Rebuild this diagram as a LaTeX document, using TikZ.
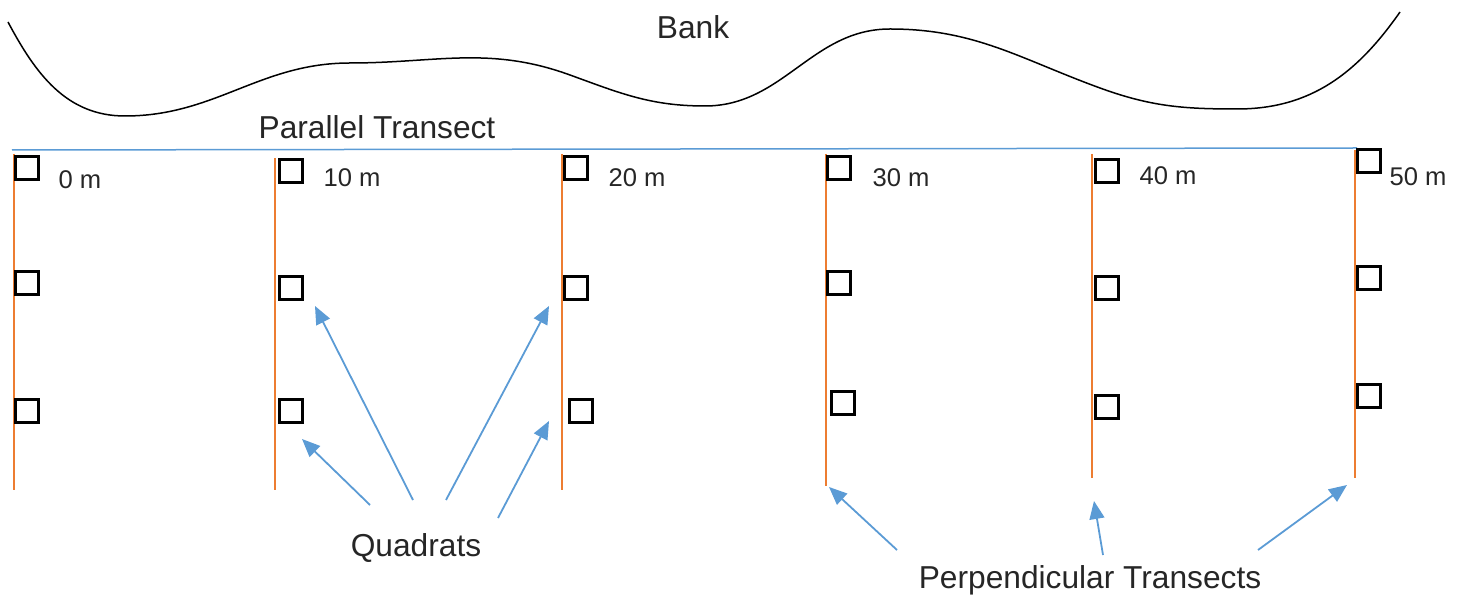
\documentclass[tikz,border=0pt]{standalone}
\usepackage{fontspec}
\setmainfont{Liberation Sans}
\usetikzlibrary{arrows.meta}
\definecolor{tblue}{HTML}{5B9BD5}
\definecolor{torange}{HTML}{ED7D31}
\definecolor{ttext}{HTML}{262626}
\begin{document}
\begin{tikzpicture}[x=0.5pt,y=-0.5pt,
  quad/.style={draw=black,line width=1.4pt,minimum size=11.5pt,inner sep=0pt,anchor=north west},
  perp/.style={draw=torange,line width=0.75pt},
  par/.style={draw=tblue,line width=0.75pt},
  pointer/.style={draw=tblue,line width=0.9pt,-{Triangle[length=9pt,width=7.5pt]}},
  bigtxt/.style={text=ttext,font=\fontsize{15.85}{19}\selectfont,inner sep=0pt},
  dist/.style={text=ttext,font=\fontsize{12.8}{15}\selectfont,inner sep=0pt}]
\useasboundingbox (0,0) rectangle (1467,603);
% bank (y axis points down, so angles are mirrored)
\draw[line width=0.75pt] (8,22) to[out=-62,in=180] (125,116)
  to[out=0,in=180] (350,63)
  to[out=0,in=160] (570,75)
  to[out=-20,in=180] (705,106)
  to[out=0,in=180] (890,29)
  to[out=0,in=160] (1100,88)
  to[out=-20,in=180] (1237,109)
  to[out=0,in=235] (1400,12);
\node[bigtxt] (bank) at (693,27) {Bank};
% parallel transect
\coordinate (pl) at (12,150);
\coordinate (pr) at (1357,148);
\draw[par] (pl) -- (pr);
\node[bigtxt] (ptlabel) at (377,127) {Parallel Transect};
% perpendicular transects
\foreach \n/\x/\yt/\yb in {a/14/154/490,b/275/158/490,c/562/154/490,d/826/154/486,e/1092/154/478,f/1355/150/478}{
  \coordinate (\n top) at (\x,\yt);
  \coordinate (\n bot) at (\x,\yb);
  \draw[perp] (\n top) -- (\n bot);
}
% quadrats
\node[quad] (qa1) at (14,155) {};
\node[quad] (qa2) at (14,270) {};
\node[quad] (qa3) at (14,398) {};
\node[quad] (qb1) at (278,158) {};
\node[quad] (qb2) at (278,275) {};
\node[quad] (qb3) at (278,398) {};
\node[quad] (qc1) at (563,155) {};
\node[quad] (qc2) at (563,275) {};
\node[quad] (qc3) at (568,398) {};
\node[quad] (qd1) at (826,155) {};
\node[quad] (qd2) at (826,270) {};
\node[quad] (qd3) at (830,390) {};
\node[quad] (qe1) at (1094,158) {};
\node[quad] (qe2) at (1094,275) {};
\node[quad] (qe3) at (1094,394) {};
\node[quad] (qf1) at (1356,148) {};
\node[quad] (qf2) at (1356,265) {};
\node[quad] (qf3) at (1356,383) {};
% distance labels
\node[dist] (l0) at (80,180) {0 m};
\node[dist] (l10) at (352,178) {10 m};
\node[dist] (l20) at (637,178) {20 m};
\node[dist] (l30) at (901,178) {30 m};
\node[dist] (l40) at (1168,176) {40 m};
\node[dist] (l50) at (1418,177) {50 m};
% labels
\node[bigtxt] (quads) at (416,548) {Quadrats};
\node[bigtxt] (perps) at (1090,580) {Perpendicular Transects};
% arrows to quadrats
\coordinate (s1) at (370,505); \coordinate (e1) at (302,439);
\coordinate (s2) at (413,500); \coordinate (e2) at (315,306);
\coordinate (s3) at (446,500); \coordinate (e3) at (549,306);
\coordinate (s4) at (498,518); \coordinate (e4) at (549,421);
\draw[pointer] (s1) -- (e1);
\draw[pointer] (s2) -- (e2);
\draw[pointer] (s3) -- (e3);
\draw[pointer] (s4) -- (e4);
% arrows to transects
\coordinate (s5) at (897,550); \coordinate (e5) at (829,487);
\coordinate (s6) at (1103,555); \coordinate (e6) at (1094,501);
\coordinate (s7) at (1258,550); \coordinate (e7) at (1347,485);
\draw[pointer] (s5) -- (e5);
\draw[pointer] (s6) -- (e6);
\draw[pointer] (s7) -- (e7);
\end{tikzpicture}
\end{document}
